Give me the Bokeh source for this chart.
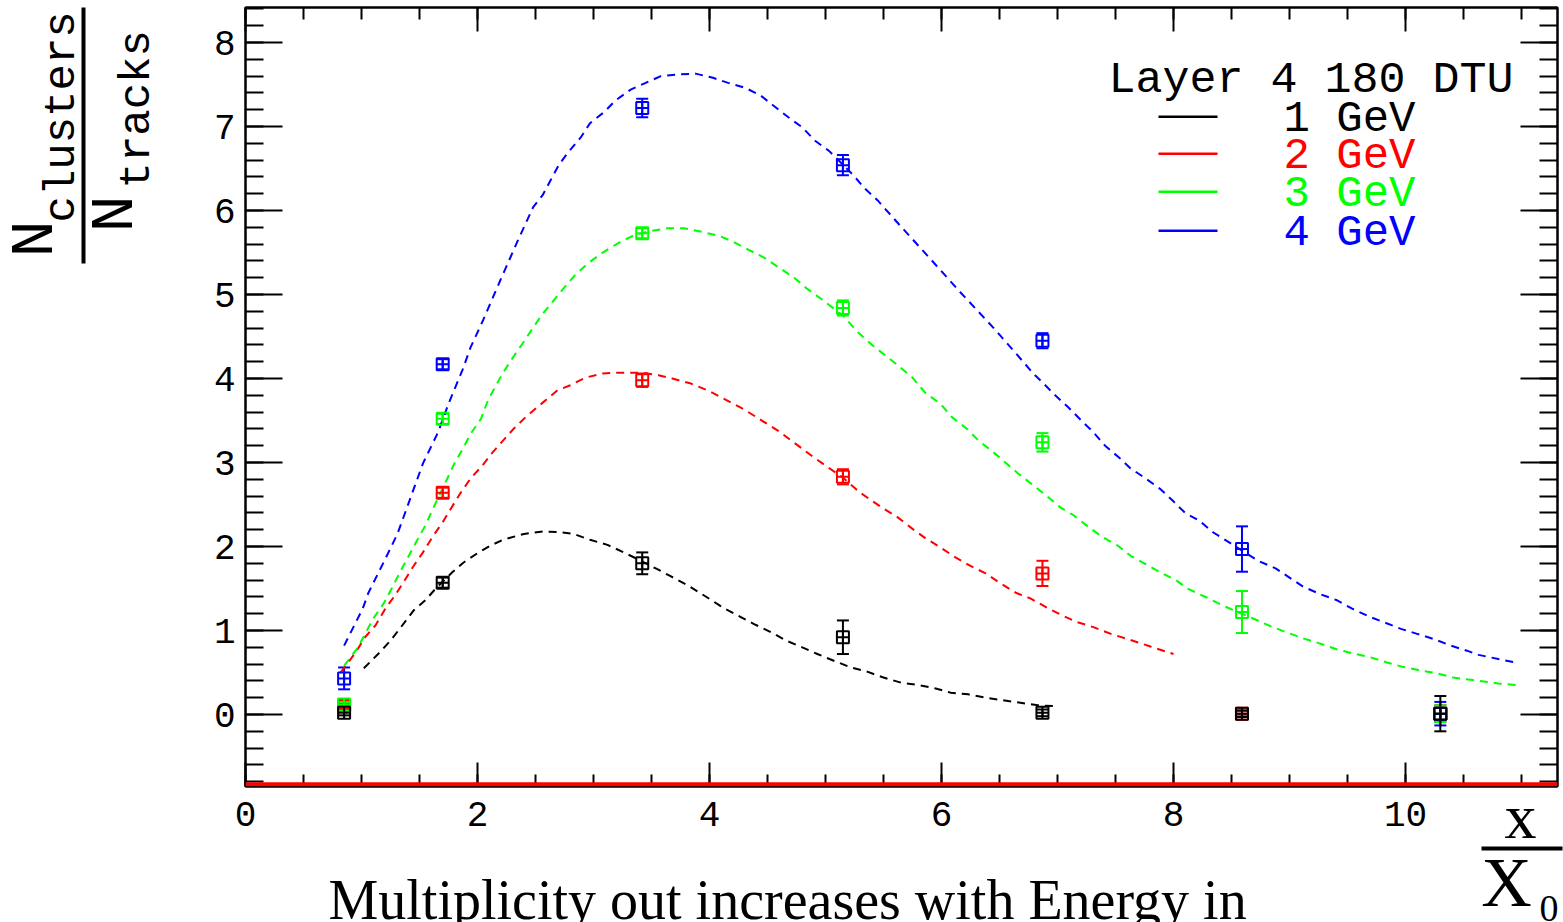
import numpy as np
from bokeh.plotting import figure
from bokeh.models import (Range1d, LinearAxis, SingleIntervalTicker, Whisker, TeeHead,
                          ColumnDataSource, Label, BoxAnnotation, Span, GridBox, Column)
from bokeh.embed import file_html
from bokeh.resources import INLINE

# ---------------- data ----------------
X_PTS = [0.85, 1.70, 3.42, 5.15, 6.87, 8.59, 10.30]
Y_1GEV = [0.02, 1.57, 1.80, 0.92, 0.02, 0.01, 0.01]
E_1GEV = [0.03, 0.06, 0.13, 0.20, 0.04, 0.04, 0.21]
Y_2GEV = [0.10, 2.64, 3.98, 2.83, 1.68, 0.01, 0.01]
E_2GEV = [0.03, 0.06, 0.08, 0.09, 0.15, 0.03, 0.10]
Y_3GEV = [0.12, 3.52, 5.73, 4.84, 3.24, 1.22, 0.01]
E_3GEV = [0.03, 0.06, 0.06, 0.09, 0.11, 0.25, 0.10]
Y_4GEV = [0.43, 4.17, 7.22, 6.54, 4.45, 1.97, 0.01]
E_4GEV = [0.13, 0.06, 0.11, 0.12, 0.09, 0.27, 0.14]

FIT1_X = [1.02, 1.15, 1.25, 1.34, 1.45, 1.55, 1.64, 1.78, 1.88, 2.00, 2.11, 2.22, 2.40, 2.57,
          2.72, 2.83, 2.97, 3.12, 3.26, 3.41, 3.55, 3.66, 3.81, 3.95, 4.12, 4.27, 4.38, 4.53,
          4.66, 4.80, 4.93, 5.09, 5.22, 5.36, 5.50, 5.65, 5.80, 5.95, 6.08, 6.23, 6.38, 6.53,
          6.68, 6.83, 6.97]
FIT1_Y = [0.55, 0.73, 0.88, 1.04, 1.24, 1.36, 1.50, 1.69, 1.81, 1.92, 2.01, 2.08, 2.15, 2.18,
          2.17, 2.15, 2.08, 2.02, 1.93, 1.83, 1.73, 1.65, 1.54, 1.42, 1.27, 1.16, 1.08, 0.98,
          0.88, 0.80, 0.72, 0.63, 0.56, 0.51, 0.44, 0.38, 0.35, 0.31, 0.26, 0.24, 0.20, 0.17,
          0.14, 0.11, 0.10]

FIT2_X = [0.82, 0.95, 1.03, 1.12, 1.21, 1.29, 1.36, 1.44, 1.53, 1.61, 1.70, 1.77, 1.85, 1.94,
          2.04, 2.13, 2.22, 2.31, 2.43, 2.56, 2.69, 2.80, 2.93, 3.08, 3.22, 3.41, 3.56, 3.68,
          3.84, 4.00, 4.30, 4.60, 4.90, 5.15, 5.30, 5.49, 5.62, 5.75, 5.86, 5.99, 6.12, 6.25,
          6.38, 6.51, 6.64, 6.77, 6.91, 7.04, 7.17, 7.31, 7.46, 7.60, 7.80, 8.00]
FIT2_Y = [0.50, 0.74, 0.92, 1.06, 1.27, 1.42, 1.57, 1.75, 1.93, 2.11, 2.29, 2.45, 2.63, 2.81,
          2.96, 3.12, 3.26, 3.40, 3.56, 3.71, 3.86, 3.92, 4.01, 4.06, 4.07, 4.07, 4.04, 4.00,
          3.94, 3.85, 3.63, 3.37, 3.06, 2.82, 2.64, 2.46, 2.35, 2.21, 2.10, 1.99, 1.87, 1.77,
          1.68, 1.56, 1.45, 1.38, 1.27, 1.18, 1.10, 1.04, 0.96, 0.90, 0.81, 0.72]

FIT3_X = [0.85, 0.97, 1.10, 1.19, 1.26, 1.33, 1.40, 1.47, 1.55, 1.61, 1.66, 1.74, 1.79, 1.88,
          1.94, 2.03, 2.09, 2.16, 2.22, 2.30, 2.39, 2.55, 2.74, 2.84, 2.96, 3.08, 3.21, 3.34,
          3.47, 3.64, 3.78, 3.92, 4.08, 4.20, 4.34, 4.47, 4.60, 4.73, 4.84, 4.97, 5.15, 5.28,
          5.41, 5.63, 5.75, 5.86, 5.99, 6.09, 6.22, 6.32, 6.44, 6.55, 6.66, 6.79, 6.90, 7.03,
          7.14, 7.27, 7.39, 7.52, 7.63, 7.76, 7.89, 8.02, 8.12, 8.29, 8.42, 8.69, 8.84, 8.97,
          9.11, 9.25, 9.40, 9.54, 9.70, 9.84, 9.97, 10.11, 10.27, 10.41, 10.58, 10.80, 10.95]
FIT3_Y = [0.58, 0.80, 1.14, 1.32, 1.50, 1.69, 1.87, 2.05, 2.25, 2.43, 2.58, 2.81, 2.96, 3.18,
          3.34, 3.52, 3.74, 3.92, 4.07, 4.24, 4.42, 4.75, 5.07, 5.23, 5.38, 5.50, 5.61, 5.70,
          5.75, 5.79, 5.79, 5.75, 5.70, 5.63, 5.53, 5.44, 5.32, 5.20, 5.07, 4.94, 4.75, 4.55,
          4.39, 4.15, 4.01, 3.83, 3.70, 3.54, 3.40, 3.26, 3.13, 3.00, 2.87, 2.73, 2.61, 2.46,
          2.37, 2.23, 2.11, 2.01, 1.89, 1.79, 1.69, 1.60, 1.50, 1.39, 1.30, 1.14, 1.05, 0.98,
          0.91, 0.85, 0.78, 0.73, 0.68, 0.62, 0.57, 0.53, 0.49, 0.44, 0.41, 0.37, 0.35]

FIT4_X = [0.85, 0.93, 1.01, 1.06, 1.19, 1.31, 1.42, 1.53, 1.66, 1.75, 1.87, 1.94, 2.05, 2.20,
          2.35, 2.48, 2.56, 2.63, 2.70, 2.78, 2.89, 2.97, 3.09, 3.19, 3.32, 3.45, 3.58, 3.72,
          3.88, 4.03, 4.16, 4.31, 4.44, 4.55, 4.68, 4.80, 4.91, 5.03, 5.24, 5.34, 5.45, 5.65,
          5.90, 6.16, 6.45, 6.71, 6.79, 6.88, 6.98, 7.09, 7.22, 7.31, 7.41, 7.53, 7.63, 7.76,
          7.89, 7.99, 8.10, 8.22, 8.34, 8.49, 8.73, 8.88, 9.00, 9.12, 9.27, 9.41, 9.54, 9.68,
          9.81, 9.96, 10.10, 10.24, 10.39, 10.53, 10.63, 10.80, 10.95]
FIT4_Y = [0.82, 1.04, 1.26, 1.45, 1.81, 2.15, 2.57, 2.99, 3.36, 3.70, 4.10, 4.37, 4.70, 5.18,
          5.65, 6.04, 6.18, 6.36, 6.54, 6.69, 6.87, 7.04, 7.17, 7.31, 7.44, 7.52, 7.60, 7.62,
          7.63, 7.58, 7.52, 7.46, 7.37, 7.25, 7.11, 6.99, 6.83, 6.71, 6.42, 6.26, 6.12, 5.81,
          5.43, 5.03, 4.60, 4.19, 4.06, 3.94, 3.80, 3.66, 3.48, 3.36, 3.20, 3.06, 2.93, 2.81,
          2.68, 2.55, 2.40, 2.31, 2.17, 2.04, 1.83, 1.74, 1.63, 1.52, 1.43, 1.36, 1.26, 1.17,
          1.10, 1.02, 0.96, 0.90, 0.82, 0.76, 0.71, 0.66, 0.62]

SERIES_LABELS = ["1 GeV", "2 GeV", "3 GeV", "4 GeV"]
COLORS = ["#000000", "#ff0000", "#00ff00", "#0000ff"]
LEGEND_TITLE = "Layer 4 180 DTU"
CAPTION = "Multiplicity out increases with Energy in"

X_MIN, X_MAX = 0.0, 11.31
Y_MIN, Y_MAX = -0.857, 8.417
BASELINE_Y = -0.83

# ---------------- layout ----------------
W, H = 1563, 922
FL, FT, FR, FB = 245, 7, 1557, 786
MONO = "Liberation Mono"
SERIF = "Liberation Serif"


def sx(cx):
    return cx - FL


def sy(cy):
    return FB - cy


p = figure(width=W, height=H, x_range=Range1d(X_MIN, X_MAX), y_range=Range1d(Y_MIN, Y_MAX),
           output_backend="svg", toolbar_location=None,
           min_border_left=FL, min_border_right=W - FR, min_border_top=FT,
           min_border_bottom=H - FB)
p.xgrid.visible = False
p.ygrid.visible = False
p.outline_line_color = "black"
p.outline_line_width = 2
p.background_fill_color = "white"
p.border_fill_color = "white"

xt = SingleIntervalTicker(interval=2, num_minor_ticks=4)
yt = SingleIntervalTicker(interval=1, num_minor_ticks=5)


def style_axis(ax, tin, label_size, standoff):
    ax.axis_line_color = "black"
    ax.axis_line_width = 2
    ax.major_tick_in = tin
    ax.major_tick_out = 0
    ax.minor_tick_in = tin // 2
    ax.minor_tick_out = 0
    ax.major_tick_line_width = 2
    ax.minor_tick_line_width = 2
    ax.major_tick_line_color = "black"
    ax.minor_tick_line_color = "black"
    ax.major_label_text_font = MONO
    ax.major_label_text_font_size = label_size
    ax.major_label_text_color = "black"
    ax.major_label_standoff = standoff


p.xaxis.ticker = xt
p.yaxis.ticker = yt
style_axis(p.xaxis[0], 24, "36px", 15)
style_axis(p.yaxis[0], 37, "36px", 10)

top_ax = LinearAxis(ticker=xt)
style_axis(top_ax, 24, "0px", 0)
top_ax.major_label_text_color = None
p.add_layout(top_ax, "above")
right_ax = LinearAxis(ticker=yt)
style_axis(right_ax, 37, "0px", 0)
right_ax.major_label_text_color = None
p.add_layout(right_ax, "right")

p.add_layout(Span(location=BASELINE_Y, dimension="width", line_color="#ff0000", line_width=4))

# curves
fits = [(FIT1_X, FIT1_Y), (FIT2_X, FIT2_Y), (FIT3_X, FIT3_Y), (FIT4_X, FIT4_Y)]
for (fx, fy), c in zip(fits, COLORS):
    p.line(fx, fy, line_color=c, line_width=2, line_dash="8 6")

# points (drawn red, green, blue, then black on top)
series = [(Y_1GEV, E_1GEV), (Y_2GEV, E_2GEV), (Y_3GEV, E_3GEV), (Y_4GEV, E_4GEV)]
for idx in [1, 2, 3, 0]:
    ys, es = series[idx]
    c = COLORS[idx]
    ya = np.array(ys)
    ea = np.array(es)
    src = ColumnDataSource(dict(x=X_PTS, y=ys, lo=list(ya - ea), hi=list(ya + ea)))
    p.add_layout(Whisker(base="x", upper="hi", lower="lo", source=src, dimension="height",
                         line_color=c, line_width=2,
                         upper_head=TeeHead(size=12, line_color=c, line_width=2),
                         lower_head=TeeHead(size=12, line_color=c, line_width=2)))
    p.scatter("x", "y", source=src, marker="square_cross", size=12, line_color=c,
              fill_color=None, line_width=2)

# legend
p.add_layout(Label(x=sx(1108), y=sy(80), x_units="screen", y_units="screen",
                   text=LEGEND_TITLE, text_font=MONO, text_font_size="45px",
                   text_baseline="middle", text_align="left", text_color="black"))
for i, (lab, c) in enumerate(zip(SERIES_LABELS, COLORS)):
    cy = [116, 153, 191, 230][i]
    p.add_layout(BoxAnnotation(left=sx(1158), right=sx(1217), top=sy(cy - 1), bottom=sy(cy + 1.5),
                               left_units="screen", right_units="screen",
                               top_units="screen", bottom_units="screen",
                               fill_color=c, fill_alpha=1.0, line_color=None))
    p.add_layout(Label(x=sx(1283), y=sy(cy + 2), x_units="screen", y_units="screen",
                       text=lab, text_font=MONO, text_font_size="44px",
                       text_baseline="middle", text_align="left", text_color=c))

# ---------------- overlay for texts outside the frame ----------------
o = figure(width=W, height=H, x_range=Range1d(0, W), y_range=Range1d(H, 0),
           output_backend="svg", toolbar_location=None, x_axis_type=None, y_axis_type=None,
           min_border=0, min_border_left=0, min_border_right=0, min_border_top=0,
           min_border_bottom=0)
o.xgrid.visible = False
o.ygrid.visible = False
o.outline_line_color = None
o.background_fill_color = None
o.border_fill_color = None


def olabel(x, y, t, font, size, align="left", angle=0.0):
    o.add_layout(Label(x=x, y=y, text=t, text_font=font, text_font_size=size,
                       text_align=align, text_baseline="alphabetic", angle=angle,
                       text_color="black"))


# y axis label (rotated fraction); anchors compensated for the renderer's baseline offset
for t, bx, by, fs in [("N", 35, 257, "62px"), ("clusters", 61, 222, "44px"),
                      ("N", 115, 232, "62px"), ("tracks", 136, 188, "44px")]:
    olabel(bx, by, t, MONO, fs, angle=np.pi / 2)
o.add_layout(BoxAnnotation(left=81, right=85, top=7, bottom=263,
                           fill_color="black", fill_alpha=1.0, line_color=None))

# x axis label x / X0
olabel(1520, 816, "x", SERIF, "64px", align="center")
o.add_layout(BoxAnnotation(left=1481, right=1562, top=846, bottom=850,
                           fill_color="black", fill_alpha=1.0, line_color=None))
olabel(1506, 882, "X", SERIF, "70px", align="center")
olabel(1539, 908, "0", SERIF, "38px")

# caption (cut by the bottom edge as in the original)
olabel(328, 899, CAPTION, SERIF, "56px")

wrapped = Column(children=[o], width=W, height=H, spacing=0)
layout = GridBox(children=[(p, 0, 0), (wrapped, 0, 0)], spacing=0)

open("out.html", "w").write(file_html(layout, INLINE))
